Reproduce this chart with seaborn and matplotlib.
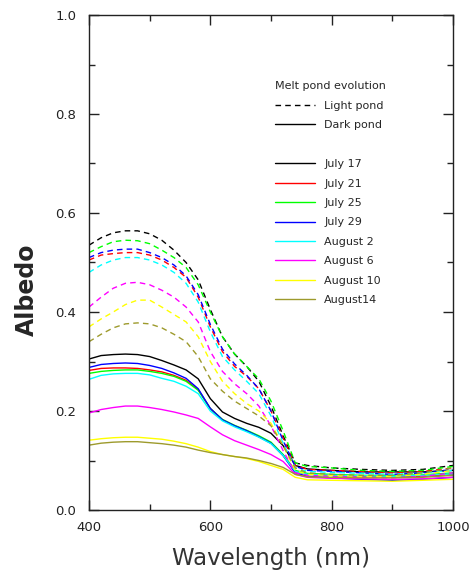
import matplotlib
matplotlib.use("Agg")
import matplotlib.pyplot as plt
from matplotlib.lines import Line2D
from matplotlib.ticker import MultipleLocator, FormatStrFormatter
import pandas as pd
import seaborn as sns

wavelength = [400, 420, 440, 460, 480, 500, 520, 540, 560, 580, 600, 620,
              640, 660, 680, 700, 720, 740, 760, 800, 850, 900, 950, 1000]

dates = ["July 17", "July 21", "July 25", "July 29",
         "August 2", "August 6", "August 10", "August14"]
colors = ["black", "#ff0000", "#00ff00", "#0000ff",
          "#00ffff", "#ff00ff", "#ffff00", "#9d9a2c"]

# light pond (dashed)
light = {
    "July 17":   [0.535, 0.55, 0.56, 0.564, 0.564, 0.558, 0.545, 0.525, 0.50, 0.465, 0.405, 0.35,
                  0.315, 0.29, 0.26, 0.21, 0.15, 0.095, 0.09, 0.085, 0.082, 0.08, 0.082, 0.09],
    "July 21":   [0.505, 0.515, 0.518, 0.52, 0.52, 0.515, 0.505, 0.49, 0.47, 0.43, 0.37, 0.32,
                  0.29, 0.27, 0.245, 0.20, 0.145, 0.09, 0.082, 0.08, 0.078, 0.075, 0.078, 0.085],
    "July 25":   [0.52, 0.532, 0.542, 0.545, 0.544, 0.538, 0.525, 0.51, 0.49, 0.455, 0.40, 0.35,
                  0.315, 0.29, 0.265, 0.22, 0.16, 0.095, 0.088, 0.085, 0.08, 0.078, 0.08, 0.088],
    "July 29":   [0.51, 0.52, 0.525, 0.527, 0.527, 0.52, 0.51, 0.495, 0.473, 0.435, 0.375, 0.325,
                  0.295, 0.272, 0.245, 0.20, 0.14, 0.088, 0.08, 0.078, 0.075, 0.072, 0.075, 0.082],
    "August 2":  [0.48, 0.495, 0.505, 0.51, 0.51, 0.505, 0.495, 0.48, 0.458, 0.42, 0.36, 0.31,
                  0.283, 0.26, 0.235, 0.19, 0.135, 0.085, 0.078, 0.076, 0.074, 0.072, 0.075, 0.08],
    "August 6":  [0.41, 0.43, 0.448, 0.458, 0.46, 0.455, 0.444, 0.43, 0.41, 0.38, 0.32, 0.28,
                  0.255, 0.235, 0.21, 0.17, 0.12, 0.075, 0.07, 0.068, 0.066, 0.065, 0.068, 0.075],
    "August 10": [0.37, 0.386, 0.40, 0.415, 0.424, 0.424, 0.41, 0.395, 0.38, 0.35, 0.30, 0.26,
                  0.235, 0.215, 0.20, 0.175, 0.13, 0.08, 0.072, 0.07, 0.068, 0.068, 0.072, 0.08],
    "August14":  [0.34, 0.355, 0.368, 0.376, 0.378, 0.376, 0.368, 0.355, 0.34, 0.31, 0.265, 0.24,
                  0.22, 0.205, 0.19, 0.17, 0.13, 0.085, 0.075, 0.072, 0.07, 0.07, 0.075, 0.085],
}

# dark pond (solid)
dark = {
    "July 17":   [0.305, 0.312, 0.314, 0.315, 0.314, 0.31, 0.302, 0.293, 0.283, 0.265, 0.225, 0.198,
                  0.185, 0.175, 0.167, 0.155, 0.13, 0.09, 0.083, 0.08, 0.077, 0.077, 0.077, 0.08],
    "July 21":   [0.282, 0.286, 0.287, 0.287, 0.286, 0.283, 0.279, 0.272, 0.262, 0.243, 0.205, 0.182,
                  0.17, 0.16, 0.148, 0.135, 0.11, 0.078, 0.072, 0.07, 0.068, 0.067, 0.068, 0.072],
    "July 25":   [0.276, 0.28, 0.282, 0.283, 0.283, 0.28, 0.276, 0.27, 0.26, 0.242, 0.205, 0.183,
                  0.171, 0.161, 0.15, 0.137, 0.112, 0.08, 0.074, 0.072, 0.07, 0.07, 0.071, 0.075],
    "July 29":   [0.288, 0.294, 0.296, 0.297, 0.296, 0.292, 0.286, 0.277, 0.266, 0.245, 0.205, 0.182,
                  0.17, 0.16, 0.148, 0.135, 0.11, 0.075, 0.068, 0.065, 0.062, 0.06, 0.062, 0.066],
    "August 2":  [0.264, 0.272, 0.275, 0.276, 0.276, 0.273, 0.266, 0.26, 0.25, 0.235, 0.20, 0.18,
                  0.168, 0.158, 0.147, 0.134, 0.11, 0.078, 0.072, 0.07, 0.069, 0.068, 0.07, 0.073],
    "August 6":  [0.196, 0.203, 0.207, 0.21, 0.21, 0.207, 0.203, 0.198, 0.192, 0.185, 0.168, 0.152,
                  0.14, 0.131, 0.122, 0.112, 0.098, 0.072, 0.066, 0.064, 0.063, 0.062, 0.063, 0.066],
    "August 10": [0.141, 0.144, 0.146, 0.147, 0.147, 0.145, 0.143, 0.139, 0.134, 0.127, 0.118, 0.112,
                  0.108, 0.104, 0.098, 0.09, 0.082, 0.066, 0.061, 0.06, 0.059, 0.058, 0.06, 0.062],
    "August14":  [0.131, 0.135, 0.137, 0.138, 0.138, 0.136, 0.134, 0.131, 0.127, 0.121, 0.116, 0.112,
                  0.108, 0.105, 0.10, 0.094, 0.086, 0.072, 0.067, 0.066, 0.065, 0.065, 0.066, 0.07],
}

rows = []
for pond, table in [("Light pond", light), ("Dark pond", dark)]:
    for d in dates:
        for w, a in zip(wavelength, table[d]):
            rows.append({"wavelength": w, "albedo": a, "date": d, "pond": pond})
df = pd.DataFrame(rows)

sns.set_style("ticks")
plt.rcParams["font.family"] = ["DejaVu Sans"]

fig = plt.figure(figsize=(4.76, 5.73), dpi=100)
ax = fig.add_axes([89 / 476, 1 - 510 / 573, 364 / 476, 495 / 573])

pal = dict(zip(dates, colors))
sns.lineplot(data=df, x="wavelength", y="albedo", hue="date", style="pond",
             palette=pal, dashes={"Light pond": (4, 3), "Dark pond": ""},
             linewidth=1.0, legend=False, ax=ax, estimator=None, sort=False)

ax.set_xlim(400, 1000)
ax.set_ylim(0, 1.0)
ax.xaxis.set_major_locator(MultipleLocator(200))
ax.xaxis.set_minor_locator(MultipleLocator(100))
ax.yaxis.set_major_locator(MultipleLocator(0.2))
ax.yaxis.set_minor_locator(MultipleLocator(0.1))
ax.yaxis.set_major_formatter(FormatStrFormatter("%.1f"))
ax.tick_params(which="both", direction="in", top=True, right=True,
               width=1.0, color="#222222", labelsize=9.5, labelcolor="#222222")
ax.tick_params(which="major", length=7)
ax.tick_params(which="minor", length=4)
ax.tick_params(axis="x", which="major", pad=8)
ax.tick_params(axis="y", which="major", pad=9)
for s in ax.spines.values():
    s.set_linewidth(1.0)
    s.set_color("#222222")

ax.set_xlabel("Wavelength (nm)", fontsize=16.5, color="#333333", labelpad=9)
ax.set_ylabel("Albedo", fontsize=17, fontweight="bold")
ax.yaxis.set_label_coords(-0.137, 0.444)

handles = [Line2D([], [], color="black", lw=1.0, dashes=(4, 3)),
           Line2D([], [], color="black", lw=1.0),
           Line2D([], [], color="none")]
labels = ["Light pond", "Dark pond", " "]
for d, c in zip(dates, colors):
    handles.append(Line2D([], [], color=c, lw=1.0))
    labels.append(d)
leg = ax.legend(handles, labels, title="Melt pond evolution", loc="upper left",
                bbox_to_anchor=(0.5, 0.875), frameon=False, fontsize=8,
                title_fontsize=8, handlelength=3.6, handletextpad=0.8,
                labelspacing=0.85, alignment="left", borderaxespad=0)

fig.savefig("out.png", dpi=100)
